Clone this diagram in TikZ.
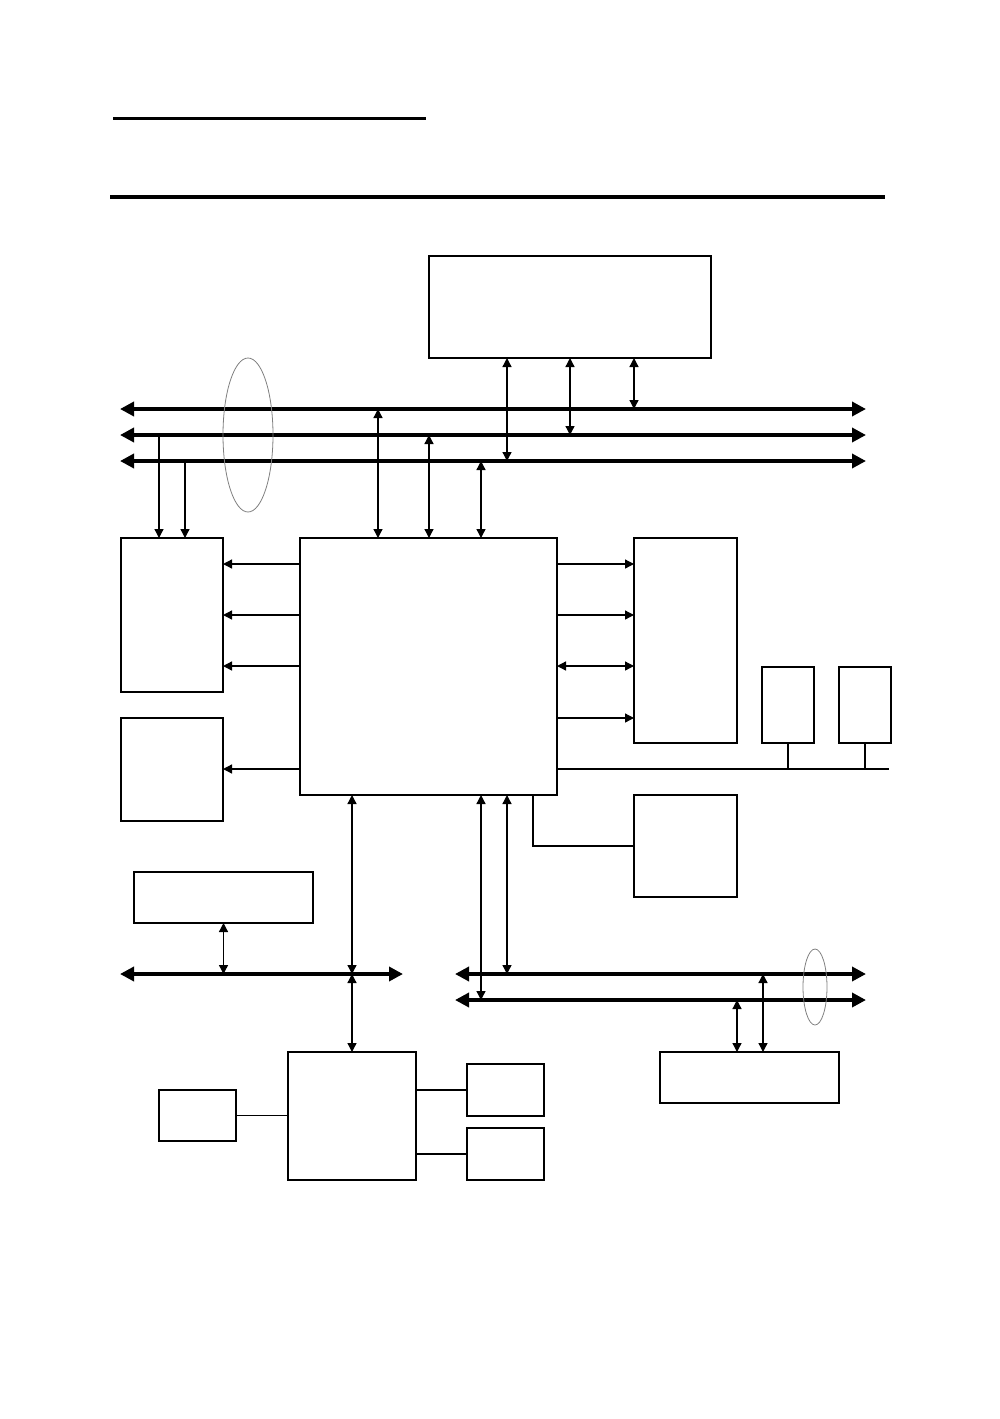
\documentclass[tikz,border=0pt]{standalone}
\usetikzlibrary{arrows.meta}
\tikzset{
  box/.style={draw, line width=1.4pt, inner sep=0pt, outer sep=0pt},
  dlink/.style={line width=1.3pt, {Triangle[length=9pt,width=9pt]}-{Triangle[length=9pt,width=9pt]}},
  slink/.style={line width=1.3pt, -{Triangle[length=9pt,width=9pt]}},
  plain/.style={line width=1.3pt},
  bus/.style={line width=4pt, {Triangle[length=14pt,width=14pt]}-{Triangle[length=14pt,width=14pt]}},
  group/.style={draw=gray, line width=0.8pt},
}
\begin{document}
\begin{tikzpicture}[x=1pt,y=-1pt]
    \useasboundingbox (0,0) rectangle (999,1419);

    % header rules
    \draw[line width=3pt] (113,118) -- (426,118);
    \draw[line width=3.5pt] (110,197) -- (885,197);

    % boxes
    \node[box, minimum width=282, minimum height=102] (mem) at (570,307) {};
    \node[box, minimum width=257, minimum height=257] (cpu) at (428.5,666.5) {};
    \node[box, minimum width=102, minimum height=154] (lbox1) at (172,615) {};
    \node[box, minimum width=102, minimum height=103] (lbox2) at (172,769.5) {};
    \node[box, minimum width=103, minimum height=205] (rbox1) at (685.5,640.5) {};
    \node[box, minimum width=52, minimum height=76] (sbox1) at (788,705) {};
    \node[box, minimum width=52, minimum height=76] (sbox2) at (865,705) {};
    \node[box, minimum width=103, minimum height=102] (rbox2) at (685.5,846) {};
    \node[box, minimum width=179, minimum height=51] (lbox3) at (223.5,897.5) {};
    \node[box, minimum width=128, minimum height=128] (bbox) at (352,1116) {};
    \node[box, minimum width=77, minimum height=51] (tbox) at (197.5,1115.5) {};
    \node[box, minimum width=77, minimum height=52] (pbox1) at (505.5,1090) {};
    \node[box, minimum width=77, minimum height=52] (pbox2) at (505.5,1154) {};
    \node[box, minimum width=179, minimum height=51] (brbox) at (749.5,1077.5) {};

    % buses
    \coordinate (busAw) at (120,409);
    \coordinate (busAe) at (866,409);
    \coordinate (busBw) at (120,435);
    \coordinate (busBe) at (866,435);
    \coordinate (busCw) at (120,461);
    \coordinate (busCe) at (866,461);
    \coordinate (busDw) at (120,974);
    \coordinate (busDe) at (403,974);
    \coordinate (busEw) at (455,974);
    \coordinate (busEe) at (866,974);
    \coordinate (busFw) at (455,1000);
    \coordinate (busFe) at (866,1000);
    \draw[bus] (busAw) -- (busAe);
    \draw[bus] (busBw) -- (busBe);
    \draw[bus] (busCw) -- (busCe);
    \draw[bus] (busDw) -- (busDe);
    \draw[bus] (busEw) -- (busEe);
    \draw[bus] (busFw) -- (busFe);

    \draw[group] (248,435) ellipse (25 and 77);
    \draw[group] (815,987) ellipse (12 and 38);

    % memory to buses
    \draw[dlink] (mem.south -| 507,0) -- (busCw -| 507,0);
    \draw[dlink] (mem.south -| 570,0) -- (busBw -| 570,0);
    \draw[dlink] (mem.south -| 634,0) -- (busAw -| 634,0);

    % chipset to buses
    \draw[dlink] (cpu.north -| 378,0) -- (busAw -| 378,0);
    \draw[dlink] (cpu.north -| 429,0) -- (busBw -| 429,0);
    \draw[dlink] (cpu.north -| 481,0) -- (busCw -| 481,0);

    \draw[slink] (busBw -| 159,0) -- (lbox1.north -| 159,0);
    \draw[slink] (busCw -| 185,0) -- (lbox1.north -| 185,0);

    % left side
    \draw[slink] (cpu.west |- 0,564) -- (lbox1.east |- 0,564);
    \draw[slink] (cpu.west |- 0,615) -- (lbox1.east |- 0,615);
    \draw[slink] (cpu.west |- 0,666) -- (lbox1.east |- 0,666);
    \draw[slink] (cpu.west |- 0,769) -- (lbox2.east |- 0,769);

    % right side
    \draw[slink] (cpu.east |- 0,564) -- (rbox1.west |- 0,564);
    \draw[slink] (cpu.east |- 0,615) -- (rbox1.west |- 0,615);
    \draw[dlink] (cpu.east |- 0,666) -- (rbox1.west |- 0,666);
    \draw[slink] (cpu.east |- 0,718) -- (rbox1.west |- 0,718);

    \coordinate (tail) at (889,769);
    \draw[plain] (cpu.east |- tail) -- (tail);
    \draw[plain] (sbox1.south) -- (sbox1.south |- tail);
    \draw[plain] (sbox2.south) -- (sbox2.south |- tail);
    \draw[plain] (cpu.south -| 533,0) |- (rbox2.west);

    % lower left
    \draw[dlink] (lbox3.south) -- (lbox3.south |- busDw);
    \draw[dlink] (cpu.south -| bbox.north) -- (bbox.north |- busDw);
    \draw[dlink] (bbox.north |- busDw) -- (bbox.north);
    \draw[plain] (tbox.east) -- (tbox.east -| bbox.west);
    \draw[plain] (bbox.east |- pbox1.west) -- (pbox1.west);
    \draw[plain] (bbox.east |- pbox2.west) -- (pbox2.west);

    % lower right
    \draw[dlink] (cpu.south -| 481,0) -- (busFw -| 481,0);
    \draw[dlink] (cpu.south -| 507,0) -- (busEw -| 507,0);
    \draw[dlink] (brbox.north -| 737,0) -- (busFw -| 737,0);
    \draw[dlink] (brbox.north -| 763,0) -- (busEw -| 763,0);
\end{tikzpicture}
\end{document}
